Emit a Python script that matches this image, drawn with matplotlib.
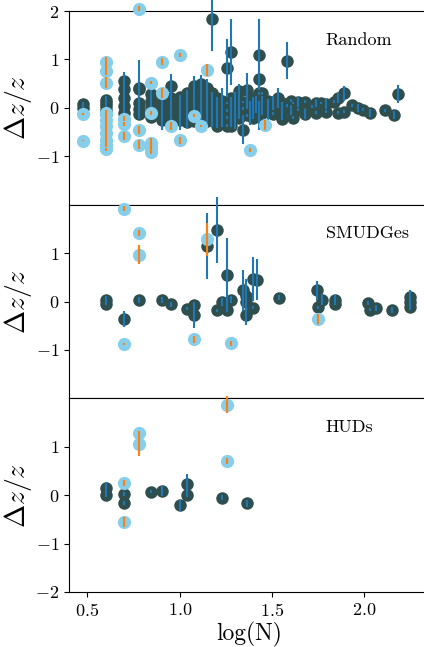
import numpy as np
import matplotlib
matplotlib.use("Agg")
import matplotlib.pyplot as plt

plt.rcParams['font.family'] = 'serif'
plt.rcParams['font.serif'] = ['cmr10']
plt.rcParams['mathtext.fontset'] = 'cm'
plt.rcParams['axes.formatter.use_mathtext'] = True

# ---------------- data ----------------
panel_names = ["Random", "SMUDGes", "HUDs"]

# Random sample: matched (dark) points
rnd_x = [0.477, 0.477,
         0.602, 0.602, 0.602, 0.602, 0.602,
         0.699, 0.699, 0.699, 0.699, 0.699,
         0.778, 0.778, 0.778, 0.778, 0.778,
         0.845, 0.845, 0.845, 0.845, 0.845,
         0.903, 0.903, 0.903, 0.903, 0.903,
         0.954, 0.954, 0.954, 0.954, 0.954,
         1.000, 1.000, 1.000, 1.000,
         1.041, 1.041, 1.041, 1.041, 1.041,
         1.079, 1.079, 1.079, 1.079, 1.079, 1.079,
         1.114, 1.114, 1.114, 1.114, 1.114, 1.114,
         1.146, 1.146, 1.146, 1.146, 1.146, 1.146,
         1.176, 1.176, 1.176, 1.176, 1.176,
         1.204, 1.204, 1.204, 1.204, 1.204,
         1.230, 1.230, 1.230, 1.230,
         1.255, 1.255, 1.255, 1.255, 1.255,
         1.279, 1.279, 1.279, 1.279, 1.279,
         1.301, 1.301, 1.301,
         1.322, 1.322, 1.322, 1.322,
         1.342, 1.342, 1.342,
         1.362, 1.362, 1.362, 1.362,
         1.380, 1.380,
         1.398, 1.398, 1.398,
         1.415, 1.415,
         1.431, 1.431, 1.431, 1.431, 1.431,
         1.447, 1.447, 1.447,
         1.477, 1.477,
         1.505, 1.505,
         1.531, 1.531,
         1.556, 1.556, 1.556,
         1.580, 1.580,
         1.602, 1.602,
         1.613, 1.613,
         1.643, 1.643,
         1.681, 1.681,
         1.716,
         1.740, 1.740,
         1.763,
         1.792, 1.792,
         1.833,
         1.857, 1.857,
         1.892, 1.892,
         1.934, 1.964, 1.991, 2.033, 2.114, 2.158, 2.182]
rnd_y = [0.08, 0.0,
         0.17, 0.10, 0.03, -0.05, -0.12,
         0.55, 0.38, 0.20, 0.03, -0.10,
         0.42, 0.38, 0.10, -0.02, -0.12,
         0.28, 0.15, 0.03, -0.08, -0.18,
         0.25, 0.10, -0.03, -0.13, -0.25,
         0.45, 0.20, 0.10, -0.05, -0.20,
         0.22, 0.05, -0.09, -0.25,
         0.30, 0.12, -0.02, -0.15, -0.30,
         0.45, 0.30, 0.17, 0.02, -0.13, -0.27,
         0.50, 0.35, 0.18, 0.05, -0.10, -0.25,
         0.42, 0.28, 0.15, 0.00, -0.15, -0.28,
         1.83, 0.30, 0.12, -0.06, -0.20,
         0.20, 0.05, -0.11, -0.25, -0.38,
         0.15, 0.00, -0.15, -0.30,
         0.82, 0.10, -0.05, -0.20, -0.37,
         1.15, 0.20, 0.00, -0.12, -0.37,
         0.10, -0.05, -0.20,
         0.35, 0.15, -0.05, -0.20,
         0.12, -0.02, -0.45,
         0.37, 0.13, 0.00, -0.15,
         0.05, -0.10,
         0.20, 0.00, -0.20,
         0.10, -0.08,
         1.10, 0.59, 0.30, 0.05, -0.15,
         0.30, 0.05, -0.10,
         0.15, -0.05,
         0.10, -0.12,
         0.20, 0.05,
         0.10, -0.08, -0.22,
         0.97, 0.05,
         0.15, -0.05,
         0.10, -0.20,
         0.12, -0.04,
         0.13, -0.12,
         0.02,
         0.10, -0.10,
         0.10,
         0.08, -0.08,
         0.13,
         0.20, -0.10,
         0.30, -0.08,
         0.05, -0.01, -0.04, -0.11, -0.05, -0.14, 0.29]
rnd_e = [0.05, 0.08,
         0.03, 0.03, 0.22, 0.03, 0.03,
         0.03, 0.03, 0.55, 0.03, 0.03,
         0.03, 0.60, 0.03, 0.03, 0.03,
         0.03, 0.30, 0.03, 0.03, 0.03,
         0.03, 0.03, 0.43, 0.03, 0.03,
         0.03, 0.03, 0.60, 0.03, 0.03,
         0.03, 0.03, 0.36, 0.03,
         0.03, 0.03, 0.39, 0.03, 0.03,
         0.03, 0.03, 0.49, 0.03, 0.03, 0.03,
         0.03, 0.03, 0.50, 0.03, 0.03, 0.03,
         0.03, 0.03, 0.45, 0.03, 0.03, 0.03,
         0.65, 0.03, 0.03, 0.34, 0.03,
         0.03, 0.03, 0.28, 0.03, 0.03,
         0.03, 0.40, 0.03, 0.03,
         0.60, 0.03, 0.03, 0.03, 0.03,
         0.68, 0.03, 0.03, 0.28, 0.03,
         0.03, 0.38, 0.03,
         0.03, 0.35, 0.03, 0.03,
         0.03, 0.03, 0.30,
         0.35, 0.03, 0.03, 0.03,
         0.03, 0.25,
         0.03, 0.20, 0.03,
         0.15, 0.03,
         0.73, 0.03, 0.03, 0.03, 0.30,
         0.03, 0.20, 0.03,
         0.03, 0.20,
         0.15, 0.03,
         0.20, 0.03,
         0.03, 0.15, 0.03,
         0.38, 0.03,
         0.03, 0.10,
         0.03, 0.03,
         0.10, 0.03,
         0.03, 0.10,
         0.03,
         0.08, 0.03,
         0.03,
         0.10, 0.03,
         0.03,
         0.10, 0.03,
         0.15, 0.03,
         0.03, 0.08, 0.03, 0.08, 0.03, 0.08, 0.18]

# Random sample: outlier (light) points
rnd_out_x = [0.477, 0.477,
             0.602, 0.602, 0.602, 0.602, 0.602, 0.602, 0.602, 0.602, 0.602, 0.602,
             0.699, 0.699, 0.699,
             0.778, 0.778, 0.778,
             0.845, 0.845, 0.845, 0.845, 0.845,
             0.903, 0.903,
             0.954, 1.000, 1.000,
             1.079, 1.114, 1.146, 1.380, 1.462]
rnd_out_y = [-0.13, -0.68,
             0.95, 0.76, 0.52, -0.10, -0.25, -0.38, -0.52, -0.66, -0.76, -0.86,
             -0.22, -0.34, -0.58,
             -0.46, -0.76, 2.05,
             0.52, -0.10, -0.73, -0.82, -0.91,
             0.95, 0.30,
             -0.38, 1.09, -0.67,
             -0.16, -0.37, 0.78, -0.87, -0.35]
rnd_out_e = [0.02, 0.01,
             0.10, 0.08, 0.12, 0.05, 0.10, 0.10, 0.10, 0.10, 0.05, 0.04,
             0.05, 0.04, 0.08,
             0.08, 0.10, 0.05,
             0.03, 0.04, 0.10, 0.10, 0.05,
             0.07, 0.10,
             0.08, 0.05, 0.07,
             0.03, 0.02, 0.12, 0.05, 0.10]

# SMUDGes
smd_x = [0.602, 0.602, 0.699, 0.778, 0.903, 0.954, 1.037, 1.079, 1.079,
         1.146, 1.204, 1.204, 1.227, 1.254, 1.254, 1.277, 1.344, 1.358, 1.358,
         1.358, 1.398, 1.416, 1.398, 1.539, 1.741, 1.750, 1.771, 1.840, 1.840,
         2.020, 2.030, 2.062, 2.147, 2.246, 2.246, 2.246]
smd_y = [0.03, -0.05, -0.36, 0.04, 0.04, -0.06, -0.15, -0.07, -0.27,
         1.15, 1.47, -0.18, -0.01, 0.55, -0.18, 0.04, 0.23, 0.12, -0.01,
         -0.27, 0.47, 0.45, -0.13, 0.08, 0.23, -0.12, 0.04, 0.04, -0.05,
         -0.03, -0.17, -0.13, -0.18, 0.09, -0.01, -0.12]
smd_e = [0.08, 0.03, 0.17, 0.06, 0.06, 0.06, 0.03, 0.03, 0.27,
         0.68, 0.68, 0.03, 0.08, 0.76, 0.03, 0.08, 0.42, 0.20, 0.47,
         0.03, 0.45, 0.42, 0.03, 0.05, 0.20, 0.03, 0.12, 0.10, 0.03,
         0.05, 0.03, 0.06, 0.06, 0.15, 0.10, 0.05]
smd_out_x = [0.699, 0.778, 0.778, 0.699, 1.079, 1.146, 1.277, 1.750]
smd_out_y = [1.92, 1.41, 0.97, -0.88, -0.78, 1.29, -0.86, -0.36]
smd_out_e = [0.05, 0.06, 0.19, 0.02, 0.07, 0.34, 0.05, 0.10]

# HUDs
hud_x = [0.602, 0.602, 0.699, 0.699, 0.845, 0.903, 1.000, 1.041, 1.041, 1.230, 1.362]
hud_y = [0.14, 0.00, 0.02, -0.17, 0.07, 0.09, -0.21, 0.23, 0.00, -0.05, -0.17]
hud_e = [0.14, 0.03, 0.04, 0.04, 0.03, 0.10, 0.12, 0.20, 0.03, 0.06, 0.07]
hud_out_x = [0.778, 0.778, 0.699, 0.699, 1.255, 1.255]
hud_out_y = [1.29, 1.06, 0.25, -0.56, 1.87, 0.70]
hud_out_e = [0.03, 0.25, 0.06, 0.10, 0.17, 0.06]

panels = [
    (rnd_x, rnd_y, rnd_e, rnd_out_x, rnd_out_y, rnd_out_e),
    (smd_x, smd_y, smd_e, smd_out_x, smd_out_y, smd_out_e),
    (hud_x, hud_y, hud_e, hud_out_x, hud_out_y, hud_out_e),
]
yticks_list = [[-1, 0, 1, 2], [-1, 0, 1], [-2, -1, 0, 1]]

# ---------------- figure ----------------
W, H = 424, 647
fig = plt.figure(figsize=(W / 100, H / 100), dpi=100)

left = 69 / W
width = 360 / W
ph = 193.7 / H
tops = [11, 204.7, 398.3]

dark = '#2F4F4F'
light = '#87CEEB'
blue = '#1f77b4'
orange = '#ff7f0e'

for i, (dx, dy, de, ox, oy, oe) in enumerate(panels):
    y0 = 1 - (tops[i] + 193.7) / H
    ax = fig.add_axes([left, y0, width, ph])
    ax.plot(dx, dy, 'o', color=dark, ms=9, mew=0, clip_on=False, zorder=2)
    ax.errorbar(dx, dy, yerr=de, fmt='none', ecolor=blue, elinewidth=1.5,
                capsize=0, clip_on=False, zorder=3)
    ax.plot(ox, oy, 'o', color=light, ms=9.5, mew=0, clip_on=False, zorder=4)
    ax.errorbar(ox, oy, yerr=oe, fmt='none', ecolor=orange, elinewidth=1.5,
                capsize=0, clip_on=False, zorder=5)
    ax.set_xlim(0.4, 2.35)
    ax.set_ylim(-2, 2)
    ax.set_yticks(yticks_list[i])
    ax.set_xticks([0.5, 1.0, 1.5, 2.0])
    ax.spines['right'].set_visible(False)
    ax.tick_params(labelsize=13)
    ax.set_ylabel(r'$\Delta z/z$', fontsize=20)
    ax.yaxis.set_label_coords(-0.098, 0.5)
    ax.text(1.79, 1.4, panel_names[i], fontsize=13, va='center', ha='left')
    if i < 2:
        ax.tick_params(axis='x', which='both', bottom=False, labelbottom=False)
    else:
        ax.set_xlabel('log(N)', fontsize=17, labelpad=2)

fig.savefig('out.png', dpi=100)
